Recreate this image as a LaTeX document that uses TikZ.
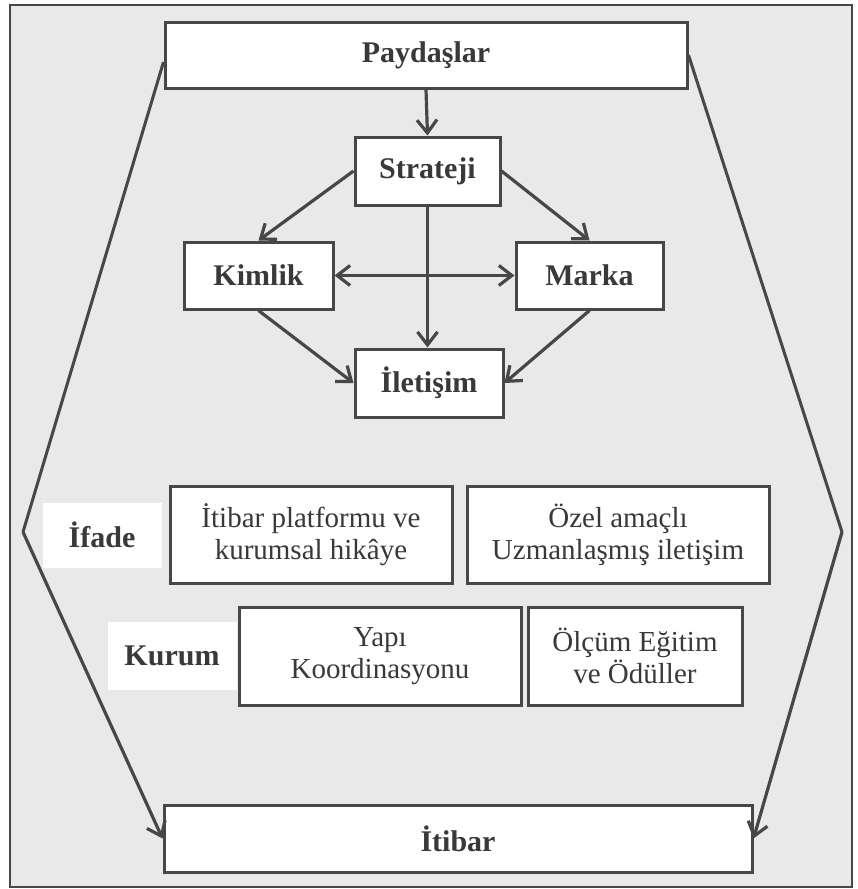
\documentclass[tikz,border=0pt]{standalone}
\usepackage{fontspec}
\setmainfont{Liberation Serif}
\usetikzlibrary{arrows.meta,calc}
\definecolor{ink}{HTML}{474747}
\definecolor{paper}{HTML}{E9E9E9}
\tikzset{
  box/.style={draw=ink, line width=3pt, fill=white, inner sep=0pt, align=center},
  lbl/.style={font=\bfseries\fontsize{30}{34}\selectfont, text=ink!80!black},
  txt/.style={font=\fontsize{29}{32}\selectfont, text=ink!80!black},
  tag/.style={fill=white, draw=none, inner sep=0pt, align=center},
  conn/.style={draw=ink, line width=3.2pt, -{Straight Barb[length=13pt,width=20pt]}},
  conn2/.style={draw=ink, line width=3.2pt, {Straight Barb[length=13pt,width=20pt]}-{Straight Barb[length=13pt,width=20pt]}},
  hexline/.style={draw=ink, line width=3pt},
}
\begin{document}
\begin{tikzpicture}[x=1pt,y=-1pt]
\useasboundingbox (0,0) rectangle (857,889);
\fill[white] (0,0) rectangle (857,889);
\draw[draw=ink, line width=2.5pt, fill=paper] (10,5) rectangle (852,887);

% nodes
\node[box, lbl, minimum width=522pt, minimum height=66pt] (pay) at (426,55) {Paydaşlar};
\node[box, lbl, minimum width=145pt, minimum height=68pt] (str) at (427.5,171) {Strateji};
\node[box, lbl, minimum width=149pt, minimum height=67pt] (kim) at (258.5,275.5) {Kimlik};
\node[box, lbl, minimum width=147pt, minimum height=67pt] (mar) at (589.5,275.5) {Marka};
\node[box, lbl, minimum width=148pt, minimum height=68pt] (ile) at (429,383) {İletişim};

\node[tag, lbl, minimum width=119pt, minimum height=65pt] (ifade) at (102,535) {İfade};
\node[box, txt, minimum width=282pt, minimum height=97pt] (itp) at (311,534.5) {İtibar platformu ve\\kurumsal hikâye};
\node[box, txt, minimum width=302pt, minimum height=97pt] (oze) at (618,534.5) {Özel amaçlı\\Uzmanlaşmış iletişim};

\node[tag, lbl, minimum width=129pt, minimum height=68pt] (kur) at (172,656) {Kurum};
\node[box, txt, minimum width=282pt, minimum height=98pt] (yap) at (380,656) {Yapı\\Koordinasyonu};
\node[box, txt, minimum width=214pt, minimum height=98pt] (olc) at (635,656) {Ölçüm Eğitim\\ve Ödüller};

\node[box, lbl, minimum width=588pt, minimum height=67pt] (iti) at (458,838.5) {İtibar};

% hexagon sides
\coordinate (lv) at (23,532);
\coordinate (rv) at (842,532);
\draw[hexline] ($(pay.west)+(0,7)$) -- (lv);
\draw[conn] (lv) -- (iti.west);
\draw[hexline] (pay.east) -- (rv);
\draw[conn] (rv) -- (iti.east);

% inner connectors
\draw[conn] (pay.south) -- (str.north);
\draw[conn] (str.west) -- (kim.north);
\draw[conn] (str.east) -- (mar.north);
\draw[conn] (str.south) -- (str.south |- ile.north);
\draw[conn2] (kim.east) -- (mar.west);
\draw[conn] (kim.south) -- (ile.west);
\draw[conn] (mar.south) -- (ile.east);
\end{tikzpicture}
\end{document}
